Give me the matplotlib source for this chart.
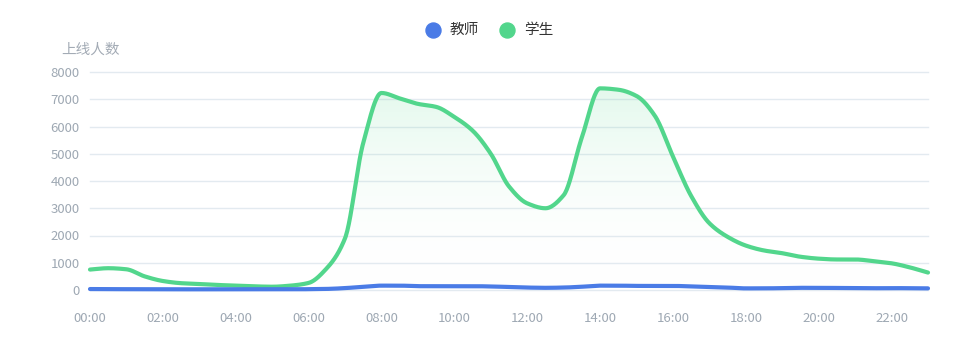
import numpy as np
import matplotlib
matplotlib.use("Agg")
import matplotlib.pyplot as plt
from matplotlib.patches import Polygon
from matplotlib.lines import Line2D
from matplotlib.colors import LinearSegmentedColormap

plt.rcParams['font.family'] = ['Noto Sans CJK SC', 'DejaVu Sans']

# half-hourly time points 00:00 .. 23:00
hours = [h / 2 for h in range(47)]
tick_hours = list(range(0, 24, 2))
tick_labels = [f"{h:02d}:00" for h in tick_hours]

students = [750, 800, 760, 500, 330, 250, 220, 185, 160, 135, 120, 160,
            260, 800, 1900, 5400, 7230, 7030, 6830, 6720, 6350, 5850, 5000, 3800,
            3180, 3000, 3480, 5600, 7400, 7350, 7120, 6400, 4900, 3450, 2450, 1950,
            1630, 1450, 1350, 1220, 1150, 1120, 1120, 1060, 980, 830, 640]
teachers = [35, 30, 30, 30, 30, 25, 25, 25, 25, 25, 25, 25,
            30, 40, 70, 120, 160, 160, 140, 140, 140, 140, 130, 110,
            90, 80, 90, 120, 160, 160, 150, 150, 150, 130, 110, 90,
            60, 60, 70, 80, 80, 75, 70, 65, 70, 65, 60]

series_names = ['教师', '学生']
colors = ['#4a7be6', '#52d68c']


def pchip(x, y, n=24):
    x = np.asarray(x, float)
    y = np.asarray(y, float)
    h = np.diff(x)
    d = np.diff(y) / h
    m = np.zeros_like(y)
    for k in range(1, len(y) - 1):
        if d[k - 1] * d[k] > 0:
            w1 = 2 * h[k] + h[k - 1]
            w2 = h[k] + 2 * h[k - 1]
            m[k] = (w1 + w2) / (w1 / d[k - 1] + w2 / d[k])
    m[0] = d[0]
    m[-1] = d[-1]
    xs, ys = [], []
    for k in range(len(x) - 1):
        t = np.linspace(0, 1, n, endpoint=False)
        h00 = 2 * t**3 - 3 * t**2 + 1
        h10 = t**3 - 2 * t**2 + t
        h01 = -2 * t**3 + 3 * t**2
        h11 = t**3 - t**2
        xs.append(x[k] + t * h[k])
        ys.append(h00 * y[k] + h10 * h[k] * m[k] + h01 * y[k + 1] + h11 * h[k] * m[k + 1])
    xs.append([x[-1]])
    ys.append([y[-1]])
    return np.concatenate(xs), np.concatenate(ys)


fig = plt.figure(figsize=(9.78, 3.6), dpi=100)
ax = fig.add_axes([90 / 978, 70 / 360, 838 / 978, 218 / 360])
ax.set_xlim(0, 23)
ax.set_ylim(0, 8000)

for v in range(0, 8001, 1000):
    ax.axhline(v, color='#e3eaf0', lw=1, zorder=0, clip_on=False)

xs, ys = pchip(hours, students)
grad = np.linspace(0, 1, 256).reshape(-1, 1)
cmap = LinearSegmentedColormap.from_list('g', [(1, 1, 1, 0.0), (0.32, 0.84, 0.55, 0.16)])
im = ax.imshow(grad, extent=[0, 23, 0, 7400], origin='lower', aspect='auto', cmap=cmap, zorder=1)
poly = Polygon(np.column_stack([np.r_[xs, xs[-1], xs[0]], np.r_[ys, 0, 0]]), closed=True,
               facecolor='none', edgecolor='none', transform=ax.transData)
ax.add_patch(poly)
im.set_clip_path(poly)

ax.plot(xs, ys, color=colors[1], lw=3.0, zorder=3, solid_capstyle='round',
        solid_joinstyle='round', clip_on=False)
xt, yt = pchip(hours, teachers)
ax.plot(xt, yt, color=colors[0], lw=3.0, zorder=4, solid_capstyle='round',
        solid_joinstyle='round', clip_on=False)

for s in ax.spines.values():
    s.set_visible(False)
ax.set_xticks(tick_hours)
ax.set_xticklabels(tick_labels)
ax.set_yticks(range(0, 8001, 1000))
ax.tick_params(axis='both', length=0, colors='#9ea8b3', labelsize=9.5)
ax.tick_params(axis='x', pad=15.5)
ax.tick_params(axis='y', pad=7.5)

fig.text(61 / 978, 1 - 50 / 360, '上线人数', color='#a3abb5', fontsize=10.5, va='center', ha='left')

# legend
legend_x = [433, 507]
for name, col, cx in zip(series_names, colors, legend_x):
    fig.add_artist(Line2D([cx / 978], [1 - 30 / 360], marker='o', markersize=10.8,
                          color=col, linestyle='none', transform=fig.transFigure))
    fig.text((cx + 17) / 978, 1 - 30 / 360, name, color='#333333', fontsize=10.5,
             va='center', ha='left')

fig.savefig('out.png', dpi=100, facecolor='white')
